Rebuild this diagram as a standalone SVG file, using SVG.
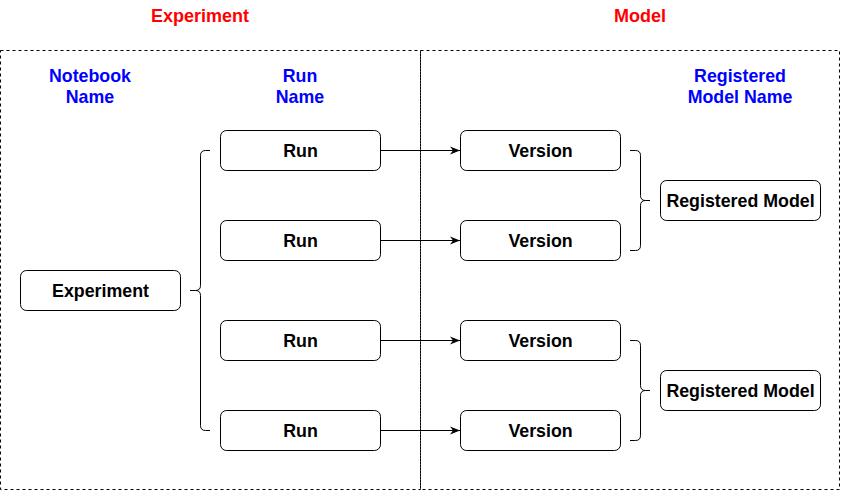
<svg xmlns="http://www.w3.org/2000/svg" width="841" height="491" viewBox="0 0 841 491">
<style>
.box{fill:#fff;stroke:#000;stroke-width:1}
.lbl{font-family:"Liberation Sans",Arial,sans-serif;font-weight:bold;font-size:16px;fill:#000;text-anchor:middle}
.title{font-family:"Liberation Sans",Arial,sans-serif;font-weight:bold;font-size:16px;fill:#f00;text-anchor:middle}
.sub{font-family:"Liberation Sans",Arial,sans-serif;font-weight:bold;font-size:16px;fill:#00f;text-anchor:middle}
.dash{fill:none;stroke:#000;stroke-width:1;stroke-dasharray:3 3}
.conn{fill:none;stroke:#000;stroke-width:1}
</style>
<defs>
<marker id="arr" viewBox="0 0 10 10" refX="10" refY="5" markerWidth="10" markerHeight="10" markerUnits="userSpaceOnUse" orient="auto">
<path d="M0,1 L10,5 L0,9 L3,5 z" fill="#000"/>
</marker>
</defs>
<g id="containers">
<rect class="dash" x="0.5" y="50.5" width="420" height="439"/>
<rect class="dash" x="420.5" y="50.5" width="419" height="439"/>
</g>
<g id="titles">
<text class="title" x="200" y="22" style="font-size:18px">Experiment</text>
<text class="title" x="640" y="22" style="font-size:18px">Model</text>
<text class="sub" x="90" y="82" style="font-size:17.8px">Notebook</text>
<text class="sub" x="90" y="103" style="font-size:17.8px">Name</text>
<text class="sub" x="300" y="82" style="font-size:17.8px">Run</text>
<text class="sub" x="300" y="103" style="font-size:17.8px">Name</text>
<text class="sub" x="740" y="82" style="font-size:17.8px">Registered</text>
<text class="sub" x="740" y="103" style="font-size:17.8px">Model Name</text>
</g>
<g id="connectors">
<path class="conn" d="M380.5,150.5 H460" marker-end="url(#arr)"/>
<path class="conn" d="M380.5,240.5 H460" marker-end="url(#arr)"/>
<path class="conn" d="M380.5,340.5 H460" marker-end="url(#arr)"/>
<path class="conn" d="M380.5,430.5 H460" marker-end="url(#arr)"/>
<path class="conn" d="M210,150.5 H205.5 Q200.5,150.5 200.5,155.5 V285.5 Q200.5,290.5 195.5,290.5 H190 M195.5,290.5 Q200.5,290.5 200.5,295.5 V425.5 Q200.5,430.5 205.5,430.5 H210"/>
<path class="conn" d="M630,150.5 H635.5 Q640.5,150.5 640.5,155.5 V195.5 Q640.5,200.5 645.5,200.5 H650 M645.5,200.5 Q640.5,200.5 640.5,205.5 V245.5 Q640.5,250.5 635.5,250.5 H630"/>
<path class="conn" d="M630,340.5 H635.5 Q640.5,340.5 640.5,345.5 V385.5 Q640.5,390.5 645.5,390.5 H650 M645.5,390.5 Q640.5,390.5 640.5,395.5 V435.5 Q640.5,440.5 635.5,440.5 H630"/>
</g>
<g id="experiment">
<rect class="box" x="20.5" y="270.5" width="160" height="40" rx="6"/>
<text class="lbl" x="100.5" y="297" style="font-size:17.8px">Experiment</text>
</g>
<g id="run1">
<rect class="box" x="220.5" y="130.5" width="160" height="40" rx="6"/>
<text class="lbl" x="300.5" y="157" style="font-size:17.8px">Run</text>
</g>
<g id="run2">
<rect class="box" x="220.5" y="220.5" width="160" height="40" rx="6"/>
<text class="lbl" x="300.5" y="247" style="font-size:17.8px">Run</text>
</g>
<g id="run3">
<rect class="box" x="220.5" y="320.5" width="160" height="40" rx="6"/>
<text class="lbl" x="300.5" y="347" style="font-size:17.8px">Run</text>
</g>
<g id="run4">
<rect class="box" x="220.5" y="410.5" width="160" height="40" rx="6"/>
<text class="lbl" x="300.5" y="437" style="font-size:17.8px">Run</text>
</g>
<g id="version1">
<rect class="box" x="460.5" y="130.5" width="160" height="40" rx="6"/>
<text class="lbl" x="540.5" y="157" style="font-size:17.8px">Version</text>
</g>
<g id="version2">
<rect class="box" x="460.5" y="220.5" width="160" height="40" rx="6"/>
<text class="lbl" x="540.5" y="247" style="font-size:17.8px">Version</text>
</g>
<g id="version3">
<rect class="box" x="460.5" y="320.5" width="160" height="40" rx="6"/>
<text class="lbl" x="540.5" y="347" style="font-size:17.8px">Version</text>
</g>
<g id="version4">
<rect class="box" x="460.5" y="410.5" width="160" height="40" rx="6"/>
<text class="lbl" x="540.5" y="437" style="font-size:17.8px">Version</text>
</g>
<g id="registered1">
<rect class="box" x="660.5" y="180.5" width="160" height="40" rx="6"/>
<text class="lbl" x="740.5" y="207" style="font-size:17.8px">Registered Model</text>
</g>
<g id="registered2">
<rect class="box" x="660.5" y="370.5" width="160" height="40" rx="6"/>
<text class="lbl" x="740.5" y="397" style="font-size:17.8px">Registered Model</text>
</g>
</svg>
